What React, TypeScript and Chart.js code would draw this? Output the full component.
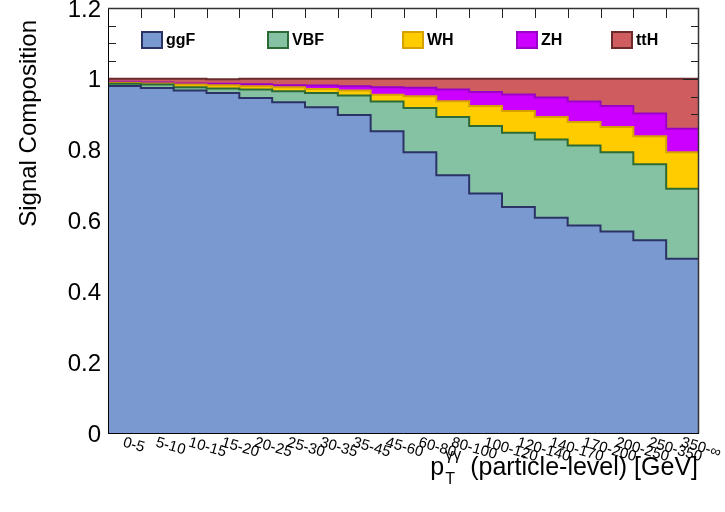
import { useEffect, useRef } from 'react';
import { Chart, registerables } from 'chart.js';

Chart.register(...registerables);

// ---------------- data ----------------
const categories = ['0-5', '5-10', '10-15', '15-20', '20-25', '25-30', '30-35', '35-45', '45-60', '60-80', '80-100', '100-120', '120-140', '140-170', '170-200', '200-250', '250-350', '350-∞'];

const ggF = [0.980, 0.974, 0.967, 0.960, 0.946, 0.934, 0.920, 0.898, 0.852, 0.793, 0.728, 0.676, 0.638, 0.608, 0.586, 0.569, 0.544, 0.492];
const VBF = [0.006, 0.010, 0.009, 0.013, 0.024, 0.031, 0.040, 0.055, 0.084, 0.125, 0.164, 0.191, 0.210, 0.221, 0.226, 0.224, 0.215, 0.198];
const WH = [0.003, 0.003, 0.008, 0.009, 0.009, 0.011, 0.011, 0.014, 0.019, 0.033, 0.045, 0.056, 0.061, 0.063, 0.066, 0.071, 0.079, 0.103];
const ZH = [0.003, 0.003, 0.003, 0.004, 0.006, 0.006, 0.010, 0.012, 0.021, 0.024, 0.033, 0.040, 0.047, 0.055, 0.058, 0.059, 0.064, 0.066];
const ttH = [0.008, 0.010, 0.013, 0.013, 0.015, 0.018, 0.019, 0.021, 0.024, 0.025, 0.030, 0.037, 0.044, 0.053, 0.064, 0.077, 0.098, 0.141];

const seriesNames = ['ggF', 'VBF', 'WH', 'ZH', 'ttH'];
const yTickLabels = ['0', '0.2', '0.4', '0.6', '0.8', '1', '1.2'];
const yTitle = 'Signal Composition';
const xTitleMain = '(particle-level) [GeV]';

// ---------------- styles ----------------
const fills = ['#7b99d1', '#85c2a4', '#ffcc00', '#cc00ff', '#cf5d60'];
const lines = ['#2b3366', '#2e6a35', '#d6a200', '#9b00c9', '#6b2b2c'];
const FONT = '"Liberation Sans", Arial, Helvetica, sans-serif';

const series = [ggF, VBF, WH, ZH, ttH];

function cumulative(k: number): { x: number; y: number }[] {
  const vals = categories.map((_, i) => {
    let s = 0;
    for (let j = 0; j <= k; j++) s += series[j][i];
    return Math.min(s, 1);
  });
  const pts = vals.map((v, i) => ({ x: i, y: v }));
  pts.push({ x: categories.length, y: vals[vals.length - 1] });
  return pts;
}

const rootPlugin = {
  id: 'rootStyle',
  beforeDatasetsDraw(chart: any) {
    const { ctx, chartArea: a, scales } = chart;
    const y = scales.y;
    const x = scales.x;
    ctx.save();
    ctx.strokeStyle = '#222';
    ctx.lineWidth = 1;
    for (let v = 0; v <= 1.2001; v += 0.05) {
      const major = Math.abs(v / 0.2 - Math.round(v / 0.2)) < 1e-6;
      const py = Math.round(y.getPixelForValue(v)) + 0.5;
      ctx.beginPath();
      ctx.moveTo(a.left, py);
      ctx.lineTo(a.left + (major ? 16 : 8), py);
      ctx.stroke();
    }
    for (let i = 1; i < categories.length; i++) {
      const px = Math.round(x.getPixelForValue(i)) + 0.5;
      ctx.beginPath();
      ctx.moveTo(px, a.top);
      ctx.lineTo(px, a.top + 10);
      ctx.moveTo(px, a.bottom);
      ctx.lineTo(px, a.bottom - 10);
      ctx.stroke();
    }
    ctx.restore();
  },
  afterDatasetDraw(chart: any, args: any) {
    if (args.index !== 4) return;
    const { ctx, chartArea: a, scales } = chart;
    const y = scales.y;
    ctx.save();
    ctx.strokeStyle = '#222';
    ctx.lineWidth = 1;
    for (let v = 0; v <= 1.2001; v += 0.05) {
      const major = Math.abs(v / 0.2 - Math.round(v / 0.2)) < 1e-6;
      const py = Math.round(y.getPixelForValue(v)) + 0.5;
      ctx.beginPath();
      ctx.moveTo(a.right, py);
      ctx.lineTo(a.right - (major ? 16 : 8), py);
      ctx.stroke();
    }
    ctx.restore();
  },
  afterDraw(chart: any) {
    const { ctx, chartArea: a, scales } = chart;
    const y = scales.y;
    const x = scales.x;
    ctx.save();
    // frame
    ctx.strokeStyle = '#000';
    ctx.lineWidth = 1;
    ctx.beginPath();
    ctx.moveTo(a.left + 0.5, a.top);
    ctx.lineTo(a.left + 0.5, a.bottom + 0.5);
    ctx.lineTo(a.right, a.bottom + 0.5);
    ctx.stroke();
    ctx.strokeStyle = '#333';
    ctx.lineWidth = 1.5;
    ctx.beginPath();
    ctx.moveTo(a.left, a.top + 0.5);
    ctx.lineTo(a.right - 0.5, a.top + 0.5);
    ctx.lineTo(a.right - 0.5, a.bottom);
    ctx.stroke();

    // y tick labels
    ctx.fillStyle = '#000';
    ctx.font = `24px ${FONT}`;
    ctx.textAlign = 'right';
    ctx.textBaseline = 'middle';
    yTickLabels.forEach((lab) => {
      const py = y.getPixelForValue(parseFloat(lab));
      ctx.fillText(lab, a.left - 7, py + 2);
    });

    // y title
    ctx.save();
    ctx.font = `24px ${FONT}`;
    ctx.translate(29, 20);
    ctx.rotate(-Math.PI / 2);
    ctx.textAlign = 'right';
    ctx.textBaseline = 'middle';
    ctx.fillText(yTitle, 0, 0);
    ctx.restore();

    // x tick labels (rotated)
    ctx.font = `15px ${FONT}`;
    ctx.textAlign = 'left';
    ctx.textBaseline = 'top';
    const ang = (16 * Math.PI) / 180;
    categories.forEach((lab, i) => {
      const px = x.getPixelForValue(i + 0.5);
      ctx.save();
      ctx.translate(px + 1, a.bottom + 2);
      ctx.rotate(ang);
      ctx.fillText(lab, 0, 0);
      ctx.restore();
    });

    // x title: p_T^{γγ} (particle-level) [GeV]
    const right = a.right - 1;
    const base = 475;
    ctx.font = `25px ${FONT}`;
    ctx.textBaseline = 'alphabetic';
    ctx.textAlign = 'left';
    const wMain = ctx.measureText(xTitleMain).width;
    const xMain = right - wMain;
    ctx.fillText(xTitleMain, xMain, base);
    ctx.font = `16px ${FONT}`;
    const wSup = ctx.measureText('γγ').width;
    const wSub = ctx.measureText('T').width;
    const wScript = Math.max(wSup, wSub);
    const xScript = xMain - 9 - wScript;
    ctx.fillText('γγ', xScript, base - 15);
    ctx.fillText('T', xScript, base + 9);
    ctx.font = `25px ${FONT}`;
    const wP = ctx.measureText('p').width;
    ctx.fillText('p', xScript - wP - 1, base);

    // legend
    const legendX = [142, 268, 403, 517, 612];
    ctx.font = `bold 16px ${FONT}`;
    ctx.textBaseline = 'middle';
    seriesNames.forEach((name, k) => {
      const bx = legendX[k];
      ctx.fillStyle = fills[k];
      ctx.fillRect(bx, 32, 20, 16);
      ctx.strokeStyle = lines[k];
      ctx.lineWidth = 2;
      ctx.strokeRect(bx, 32, 20, 16);
      ctx.fillStyle = '#000';
      ctx.fillText(name, bx + 24, 41);
    });
    ctx.restore();
  },
};

export default function App() {
  const ref = useRef<HTMLCanvasElement>(null);
  useEffect(() => {
    document.body.style.margin = '0';
    const datasets = seriesNames.map((name, k) => ({
      label: name,
      data: cumulative(k),
      borderColor: lines[k],
      backgroundColor: fills[k],
      borderWidth: 2,
      pointRadius: 0,
      stepped: true as const,
      fill: 'origin' as const,
      tension: 0,
    }));
    const chart = new Chart(ref.current as HTMLCanvasElement, {
      type: 'line',
      data: { datasets },
      options: {
        animation: false,
        responsive: false,
        devicePixelRatio: 1,
        parsing: false as any,
        layout: { padding: { left: 108, top: 8, right: 26, bottom: 79 } },
        plugins: { legend: { display: false }, tooltip: { enabled: false } },
        scales: {
          x: { type: 'linear', min: 0, max: categories.length, display: false },
          y: { type: 'linear', min: 0, max: 1.2, display: false },
        },
      },
      plugins: [rootPlugin],
    });
    return () => chart.destroy();
  }, []);
  return (
    <div style={{ position: 'fixed', left: 0, top: 0, width: 725, height: 512, background: '#fff' }}>
      <canvas ref={ref} width={725} height={512} style={{ display: 'block' }} />
    </div>
  );
}
